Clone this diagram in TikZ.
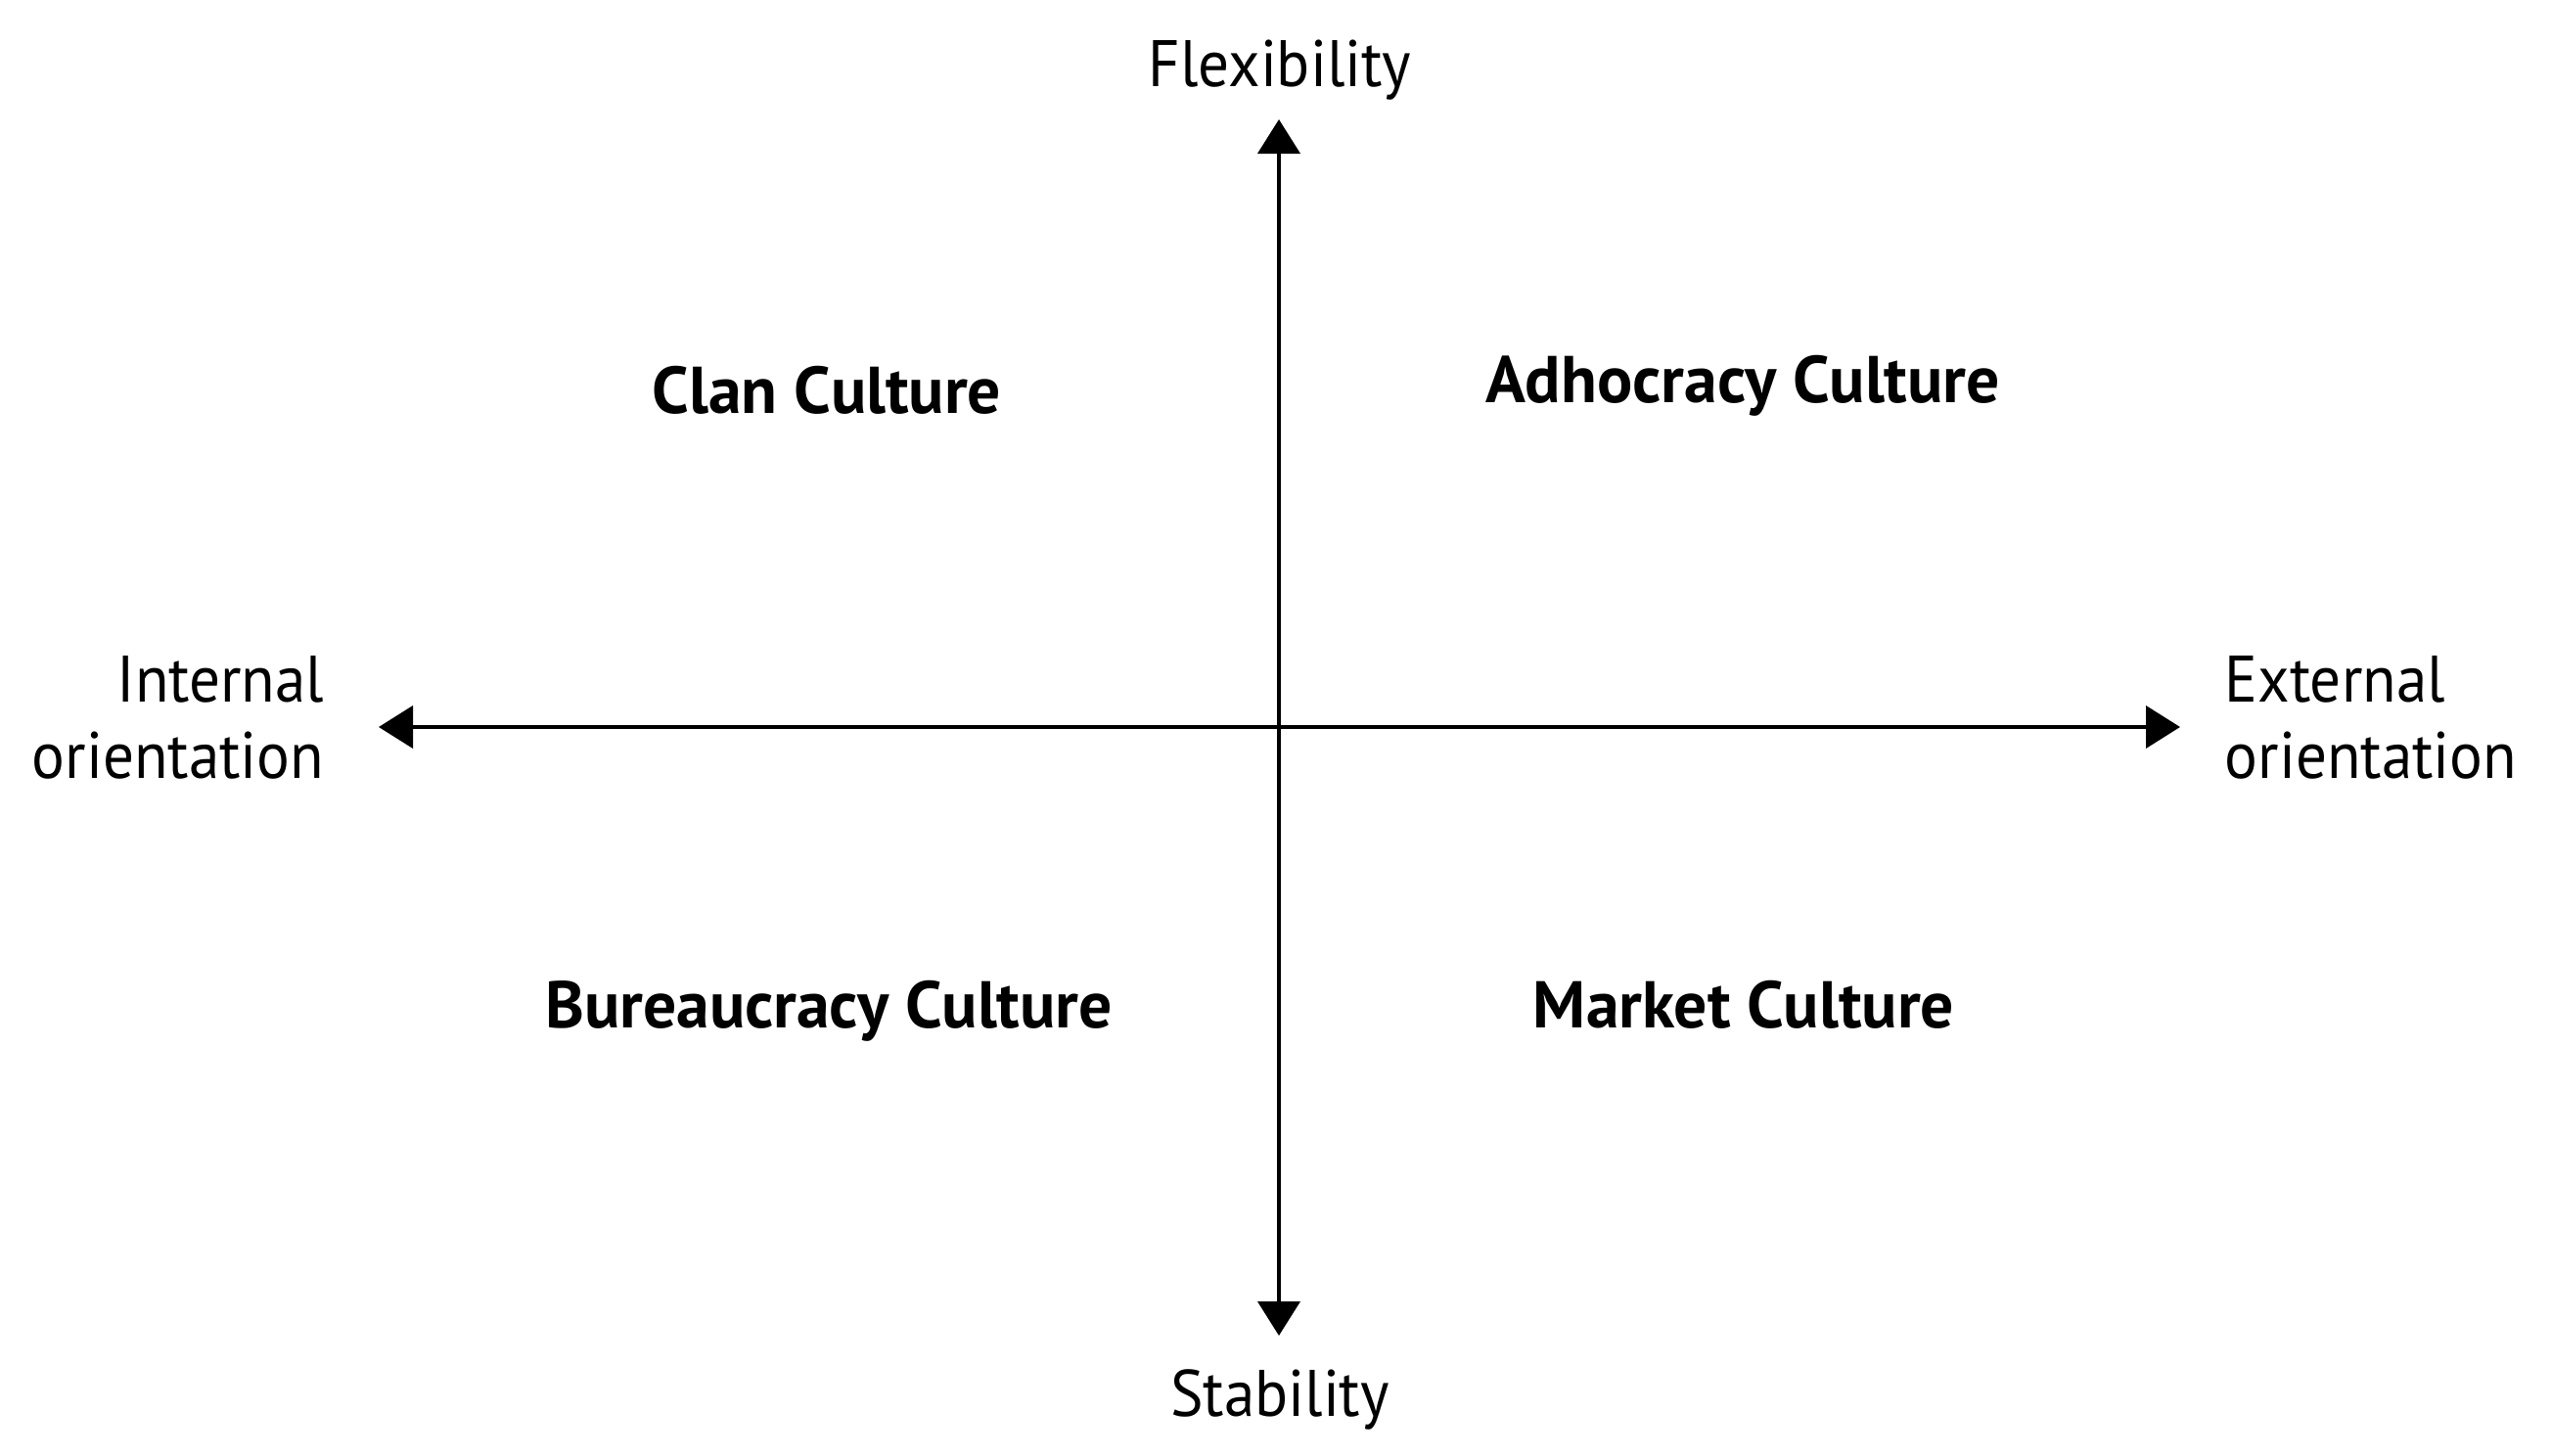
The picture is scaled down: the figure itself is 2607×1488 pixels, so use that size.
\documentclass[tikz,border=0pt]{standalone}
\usepackage{fontspec}
\setmainfont{PT Sans}
\newfontfamily\axisfont[FakeStretch=0.94]{PT Sans}
\usetikzlibrary{arrows.meta}
\tikzset{
  axisline/.style={line width=1pt, {Triangle[width=10.75pt,length=8.75pt]}-{Triangle[width=10.75pt,length=8.75pt]}},
  axislabel/.style={inner sep=0pt, font=\axisfont\fontsize{16.8}{19.5}\selectfont},
  quadlabel/.style={inner sep=0pt, font=\fontsize{16.9}{19.5}\selectfont\bfseries, anchor=base},
}
\begin{document}
\begin{tikzpicture}[x=0.25pt,y=-0.25pt]
\useasboundingbox (0,0) rectangle (2607,1488);
\coordinate (top) at (1307,122);
\coordinate (bot) at (1307,1365);
\coordinate (left) at (387,743);
\coordinate (right) at (2228,743);
\draw[axisline] (bot) -- (top);
\draw[axisline] (left) -- (right);
\node[axislabel, anchor=base] (flex) at (1308,88) {Flexibility};
\node[axislabel, anchor=base] (stab) at (1308,1447) {Stability};
\node[axislabel, anchor=base east, align=right] (int) at (332,795) {Internal\\orientation};
\node[axislabel, anchor=base west, align=left] (ext) at (2273,795) {External\\orientation};
\node[quadlabel] (clan) at (845,422) {Clan Culture};
\node[quadlabel] (adho) at (1781,411) {Adhocracy Culture};
\node[quadlabel] (bure) at (847,1050) {Bureaucracy Culture};
\node[quadlabel] (mark) at (1782,1050) {Market Culture};
\end{tikzpicture}
\end{document}
